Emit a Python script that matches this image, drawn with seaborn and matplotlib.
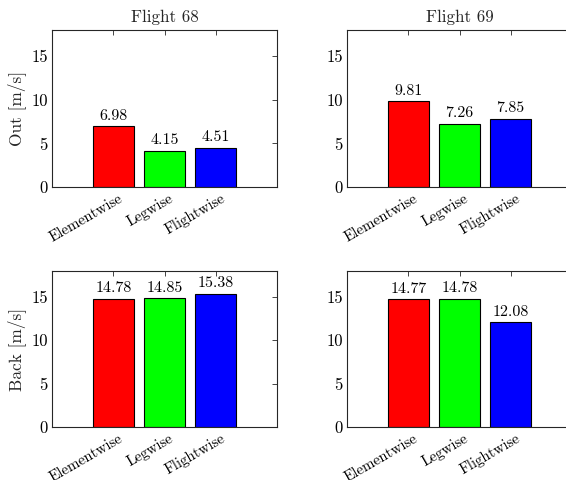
import matplotlib
matplotlib.use("Agg")
import matplotlib.pyplot as plt
import matplotlib.transforms as mtrans
import seaborn as sns
import pandas as pd

methods = ["Elementwise", "Legwise", "Flightwise"]
flights = ["Flight 68", "Flight 69"]
directions = ["Out", "Back"]
out_68 = [6.98, 4.15, 4.51]
out_69 = [9.81, 7.26, 7.85]
back_68 = [14.78, 14.85, 15.38]
back_69 = [14.77, 14.78, 12.08]
colors = ["#ff0000", "#00ff00", "#0000ff"]
yticks = [0, 5, 10, 15]

sns.set_theme(style="white")
plt.rcParams["font.family"] = ["cmr10", "DejaVu Serif"]
plt.rcParams["axes.formatter.use_mathtext"] = True
plt.rcParams["mathtext.fontset"] = "cm"

fig = plt.figure(figsize=(5.66, 4.8), dpi=100)
W, H = 566, 480
def add_ax(x0, y0, x1, y1):
    return fig.add_axes([x0 / W, 1 - y1 / H, (x1 - x0) / W, (y1 - y0) / H])

axes = [[add_ax(52, 30, 277, 187), add_ax(347, 30, 572, 187)],
        [add_ax(52, 271, 277, 427), add_ax(347, 271, 572, 427)]]

data = {("Out", 0): out_68, ("Out", 1): out_69, ("Back", 0): back_68, ("Back", 1): back_69}
spine_c = "#262626"
offset = mtrans.ScaledTranslation(8 / 100, 2 / 100, fig.dpi_scale_trans)

for r, d in enumerate(directions):
    for c, f in enumerate(flights):
        ax = axes[r][c]
        df = pd.DataFrame({"method": methods, "value": data[(d, c)]})
        sns.barplot(data=df, x="method", y="value", hue="method", palette=colors,
                    edgecolor="black", linewidth=0.8, width=0.8, ax=ax, legend=False,
                    saturation=1)
        for cont in ax.containers:
            ax.bar_label(cont, fmt="%.2f", padding=2.5, fontsize=11.5, color="black")
        ax.set_xlim(-1.2, 3.2)
        ax.set_ylim(0, 18)
        ax.set_yticks(yticks)
        ax.set_yticklabels([str(v) for v in yticks])
        ax.set_xticks(range(len(methods)))
        ax.set_xticklabels(methods, rotation=30, ha="right", va="center",
                           rotation_mode="anchor", fontsize=10.8)
        ax.tick_params(axis="both", direction="in", length=3.5, width=0.6,
                       top=True, right=True, color=spine_c,
                       labelcolor="black", pad=3)
        ax.tick_params(axis="y", labelsize=12)
        ax.tick_params(axis="x", pad=9)
        for lab in ax.get_xticklabels():
            lab.set_transform(lab.get_transform() + offset)
        ax.set_xlabel("")
        if c == 0:
            ax.set_ylabel(f"{d} [m/s]", fontsize=12.5)
        else:
            ax.set_ylabel("")
        if r == 0:
            ax.set_title(f, fontsize=12.2, pad=6)
        for s in ax.spines.values():
            s.set_color(spine_c)
            s.set_linewidth(0.8)
            s.set_visible(True)

fig.savefig("out.png", dpi=100)
